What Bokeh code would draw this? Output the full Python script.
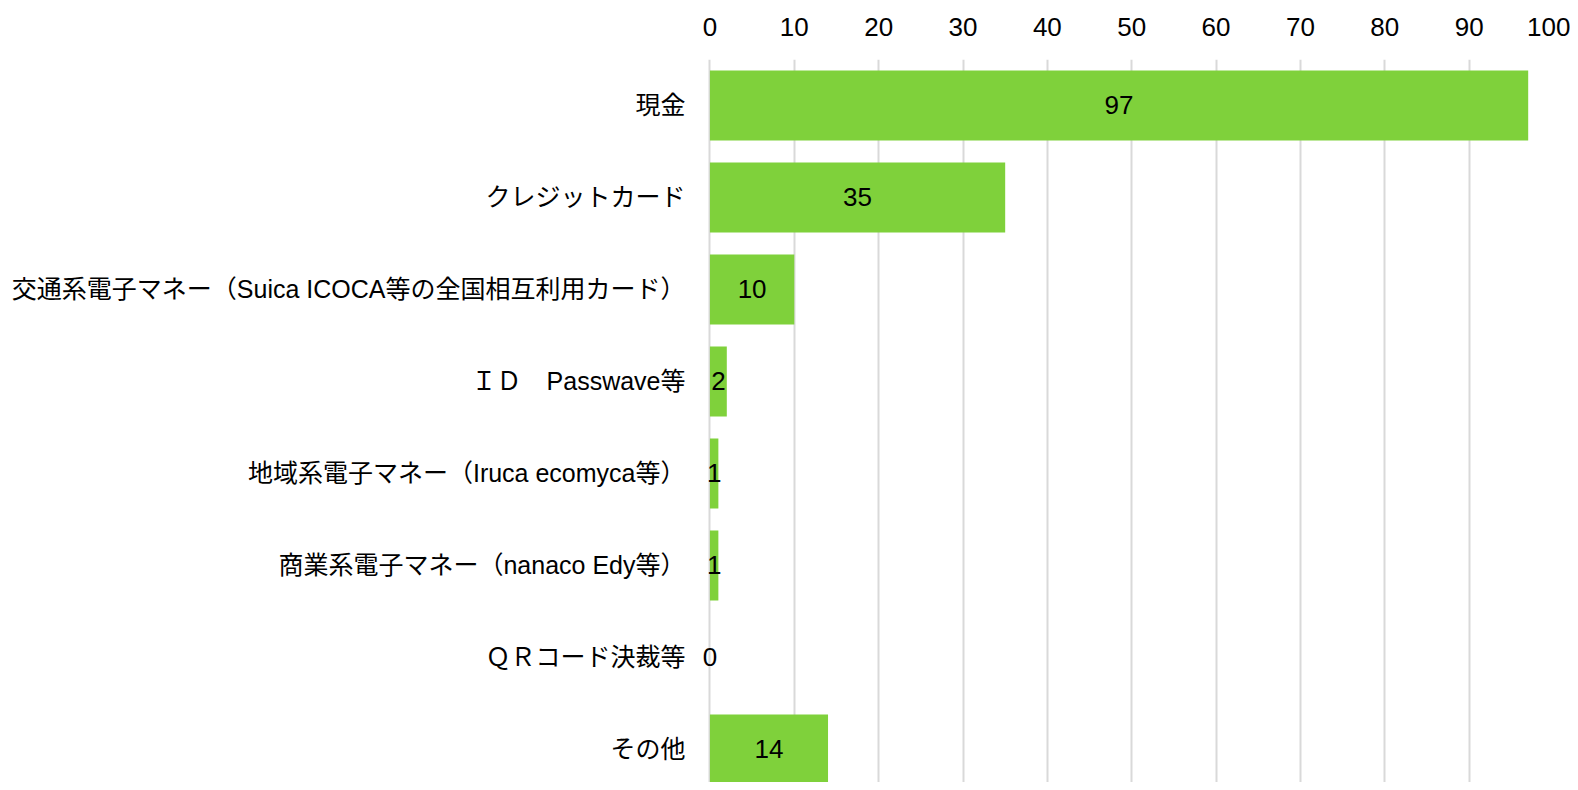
from bokeh.plotting import figure
from bokeh.models import Range1d, FixedTicker, ColumnDataSource
from bokeh.core.properties import value
from bokeh.embed import file_html
from bokeh.resources import INLINE

categories = [
    "現金",
    "クレジットカード",
    "交通系電子マネー（Suica ICOCA等の全国相互利用カード）",
    "ＩＤ　Passwave等",
    "地域系電子マネー（Iruca ecomyca等）",
    "商業系電子マネー（nanaco Edy等）",
    "ＱＲコード決裁等",
    "その他",
]
counts = [97, 35, 10, 2, 1, 1, 0, 14]
x_ticks = [0, 10, 20, 30, 40, 50, 60, 70, 80, 90, 100]

FONT = "Liberation Sans, Arial, Noto Sans CJK JP"
BAR = "#7fd13b"

pos = list(range(len(categories)))
src = ColumnDataSource(dict(
    y=pos,
    v=counts,
    mid=[c / 2 for c in counts],
    lab=[str(c) for c in counts],
))

p = figure(
    width=1570, height=782,
    output_backend="svg", toolbar_location=None,
    x_range=Range1d(-1, 100),
    y_range=Range1d(7.359, -0.5),
    x_axis_location="above",
    min_border_left=701, min_border_right=17,
    min_border_top=59, min_border_bottom=0,
)
p.outline_line_color = None
p.background_fill_color = "white"
p.border_fill_color = "white"

p.hbar(y="y", right="v", left=0, height=0.76, source=src,
       fill_color=BAR, line_color=None)
p.text(x="mid", y="y", text="lab", source=src,
       text_align="center", text_baseline="middle",
       text_font=value(FONT), text_font_size="26px", text_color="black")

xa = p.xaxis[0]
xa.ticker = FixedTicker(ticks=x_ticks)
xa.axis_line_color = None
xa.major_tick_line_color = None
xa.minor_tick_line_color = None
xa.major_label_text_font = FONT
xa.major_label_text_font_size = "26px"
xa.major_label_text_color = "black"
xa.major_label_standoff = 18

ya = p.yaxis[0]
ya.ticker = FixedTicker(ticks=pos)
ya.major_label_overrides = {i: c for i, c in enumerate(categories)}
ya.axis_line_color = None
ya.major_tick_line_color = None
ya.minor_tick_line_color = None
ya.major_label_text_font = FONT
ya.major_label_text_font_size = "25px"
ya.major_label_text_color = "black"
ya.major_label_standoff = 10

p.xgrid.ticker = FixedTicker(ticks=x_ticks)
p.xgrid.grid_line_color = "#d9d9d9"
p.xgrid.grid_line_width = 2
p.ygrid.grid_line_color = None

open("out.html", "w").write(file_html(p, INLINE))
